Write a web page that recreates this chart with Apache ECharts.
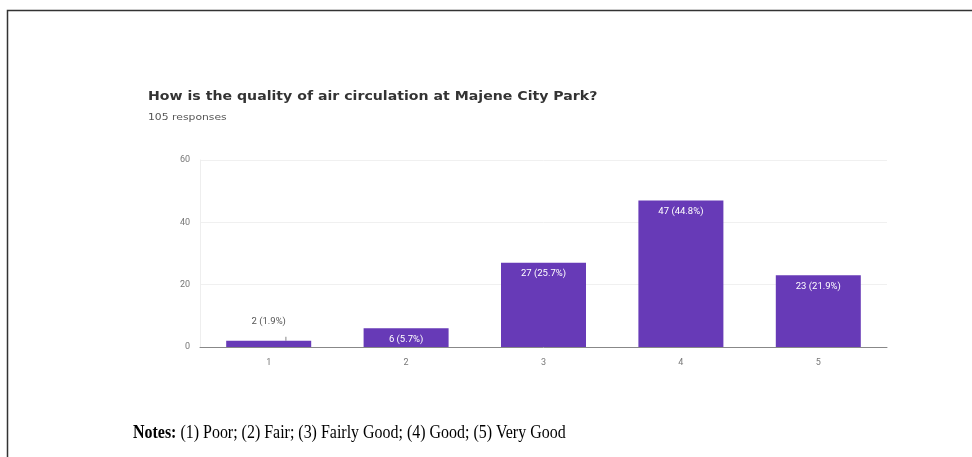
<!DOCTYPE html>
<html>
<head>
<meta charset="utf-8">
<script src="https://cdn.jsdelivr.net/npm/echarts@6/dist/echarts.min.js"></script>
<style>html,body{margin:0;padding:0;background:#fff;}#c{width:972px;height:457px;}</style>
</head>
<body>
<div id="c"></div>
<script>
const categories = ["1", "2", "3", "4", "5"];
const counts = [2, 6, 27, 47, 23];
const percents = ["1.9%", "5.7%", "25.7%", "44.8%", "21.9%"];
const yTicks = [0, 20, 40, 60];
const titleText = "How is the quality of air circulation at Majene City Park?";
const subText = "105 responses";
const notesBold = "Notes:";
const notesText = " (1) Poor; (2) Fair; (3) Fairly Good; (4) Good; (5) Very Good";

const chart = echarts.init(document.getElementById('c'), null, {renderer: 'canvas'});
const barData = counts.map((v, i) => {
  const item = {value: v};
  if (i === 0) {
    item.label = {position: 'top', color: '#555', distance: 14};
    item.labelLine = {show: true, lineStyle: {color: '#888', width: 1}};
  }
  return item;
});
chart.setOption({
  animation: false,
  backgroundColor: '#fff',
  grid: {left: 200, right: 85, top: 160, bottom: 110},
  xAxis: {
    type: 'category',
    data: categories,
    axisTick: {show: false},
    axisLine: {lineStyle: {color: '#888', width: 1}},
    axisLabel: {color: '#777', fontSize: 9, fontFamily: 'Roboto', margin: 11}
  },
  yAxis: {
    type: 'value',
    min: yTicks[0],
    max: yTicks[yTicks.length - 1],
    interval: 20,
    axisLine: {show: true, lineStyle: {color: '#eee'}},
    axisTick: {show: false},
    splitLine: {lineStyle: {color: '#f0f0f0'}},
    axisLabel: {color: '#777', fontSize: 9, fontFamily: 'Roboto', margin: 10}
  },
  series: [{
    type: 'bar',
    data: barData,
    barWidth: 85,
    itemStyle: {color: '#673ab7'},
    label: {
      show: true,
      position: 'insideTop',
      distance: 6,
      color: '#fff',
      fontSize: 9.5,
      fontFamily: 'Roboto',
      formatter: p => p.value + ' (' + percents[p.dataIndex] + ')'
    }
  }],
  graphic: [
    {type: 'rect', shape: {x: 7.5, y: 10.5, width: 1000, height: 500},
     style: {fill: 'none', stroke: '#333', lineWidth: 1.5}, silent: true},
    {type: 'text', x: 148, y: 90, scaleX: 1.13,
     style: {text: titleText, fontFamily: 'DejaVu Sans', fontWeight: 'bold', fontSize: 12.5, fill: '#333'}},
    {type: 'text', x: 148, y: 113, scaleX: 1.2,
     style: {text: subText, fontFamily: 'DejaVu Sans', fontSize: 9, fill: '#555'}},
    {type: 'text', x: 133, y: 424, scaleX: 0.84,
     style: {rich: {b: {fontFamily: 'Liberation Serif', fontWeight: 'bold', fontSize: 19, fill: '#000'},
                    n: {fontFamily: 'Liberation Serif', fontSize: 19, fill: '#000'}},
             text: '{b|' + notesBold + '}{n|' + notesText + '}'}}
  ]
});
</script>
</body>
</html>
